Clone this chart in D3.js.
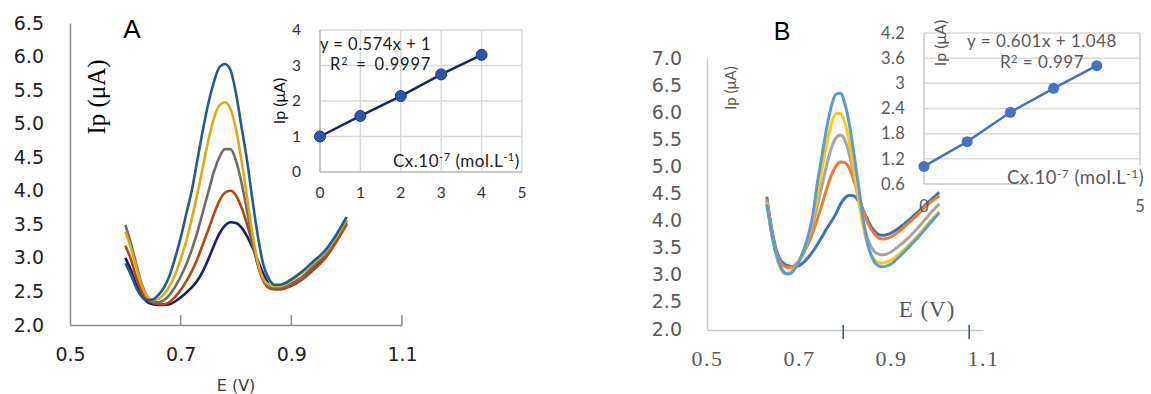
<!DOCTYPE html>
<html>
<head>
<meta charset="utf-8">
<script src="https://cdn.jsdelivr.net/npm/d3@7"></script>
<style>
  body { margin: 0; background: #fff; }
</style>
</head>
<body>
<svg id="chart" width="1151" height="394" font-family="DejaVu Sans"></svg>
<script>
// ---- panel A : DPV curves, 5 concentrations ----
const potA = [0.60, 0.61, 0.62, 0.63, 0.64, 0.65, 0.66, 0.67, 0.68, 0.69, 0.70, 0.71, 0.72, 0.73, 0.74, 0.75,
  0.76, 0.77, 0.78, 0.79, 0.80, 0.81, 0.82, 0.83, 0.84, 0.85, 0.86, 0.87, 0.88, 0.89, 0.90, 0.92, 0.94, 0.96, 0.98, 1.00];
const a1 = [3.00, 2.82, 2.60, 2.43, 2.34, 2.31, 2.30, 2.30, 2.31, 2.35, 2.41, 2.48, 2.56, 2.66, 2.80, 2.98,
  3.18, 3.36, 3.48, 3.53, 3.52, 3.45, 3.32, 3.15, 2.95, 2.75, 2.60, 2.55, 2.54, 2.56, 2.60, 2.70, 2.85, 3.00, 3.25, 3.52];
const a2 = [3.18, 2.98, 2.70, 2.50, 2.38, 2.33, 2.31, 2.31, 2.34, 2.42, 2.52, 2.65, 2.80, 2.98, 3.20, 3.42,
  3.65, 3.85, 3.97, 4.00, 3.93, 3.75, 3.50, 3.20, 2.88, 2.65, 2.55, 2.53, 2.53, 2.55, 2.58, 2.68, 2.82, 2.98, 3.22, 3.50];
const a3 = [3.49, 3.22, 2.90, 2.60, 2.42, 2.35, 2.34, 2.37, 2.45, 2.57, 2.72, 2.90, 3.12, 3.38, 3.68, 3.98,
  4.28, 4.50, 4.62, 4.62, 4.45, 4.12, 3.70, 3.25, 2.88, 2.66, 2.57, 2.55, 2.56, 2.58, 2.62, 2.72, 2.88, 3.03, 3.27, 3.55];
const a4 = [3.39, 3.15, 2.85, 2.58, 2.42, 2.37, 2.39, 2.46, 2.58, 2.75, 2.98, 3.25, 3.58, 3.95, 4.35, 4.75,
  5.08, 5.27, 5.32, 5.22, 4.92, 4.45, 3.90, 3.35, 2.92, 2.68, 2.60, 2.58, 2.58, 2.61, 2.66, 2.78, 2.93, 3.07, 3.30, 3.57];
const a5 = [2.92, 2.75, 2.55, 2.42, 2.37, 2.38, 2.45, 2.56, 2.74, 3.00, 3.30, 3.65, 4.00, 4.45, 4.90, 5.30,
  5.62, 5.84, 5.89, 5.80, 5.45, 4.95, 4.45, 3.85, 3.30, 2.88, 2.68, 2.60, 2.60, 2.63, 2.68, 2.80, 2.95, 3.10, 3.33, 3.61];
const curvesA = [a1, a2, a3, a4, a5];
const colorsA = ["#16206c", "#b5470f", "#6d6d6d", "#e3aa0c", "#1f5c97"];
const yTicksA = [2.0, 2.5, 3.0, 3.5, 4.0, 4.5, 5.0, 5.5, 6.0, 6.5];
const xTicksA = [0.5, 0.7, 0.9, 1.1];
const xMarksA = [0.7, 0.9, 1.1];

// inset A : calibration
const concA = [0, 1, 2, 3, 4];
const ipA = [1.00, 1.58, 2.14, 2.75, 3.30];

// ---- panel B ----
const potB = [0.63, 0.64, 0.65, 0.66, 0.67, 0.68, 0.69, 0.70, 0.71, 0.72, 0.73, 0.74, 0.75, 0.76, 0.77, 0.78,
  0.79, 0.80, 0.81, 0.82, 0.83, 0.84, 0.85, 0.86, 0.87, 0.88, 0.89, 0.90, 0.92, 0.94, 0.96, 0.98, 1.005];
const b1 = [4.44, 3.88, 3.48, 3.27, 3.19, 3.16, 3.15, 3.17, 3.23, 3.32, 3.43, 3.56, 3.70, 3.85, 3.98, 4.12,
  4.30, 4.42, 4.47, 4.45, 4.35, 4.18, 4.00, 3.85, 3.76, 3.73, 3.74, 3.77, 3.88, 4.02, 4.17, 4.33, 4.52];
const b2 = [4.40, 3.85, 3.45, 3.23, 3.15, 3.14, 3.17, 3.26, 3.40, 3.57, 3.78, 4.03, 4.30, 4.58, 4.83, 5.00,
  5.08, 5.07, 4.95, 4.72, 4.45, 4.18, 3.95, 3.80, 3.70, 3.66, 3.67, 3.70, 3.82, 3.97, 4.13, 4.30, 4.46];
const b3 = [4.36, 3.80, 3.38, 3.12, 3.02, 3.02, 3.10, 3.24, 3.42, 3.64, 3.92, 4.28, 4.65, 5.02, 5.33, 5.52,
  5.58, 5.48, 5.20, 4.80, 4.35, 3.95, 3.65, 3.47, 3.39, 3.37, 3.38, 3.42, 3.55, 3.70, 3.88, 4.08, 4.31];
const b4 = [4.33, 3.78, 3.38, 3.13, 3.03, 3.04, 3.12, 3.26, 3.45, 3.70, 4.02, 4.45, 4.95, 5.40, 5.78, 5.97,
  5.98, 5.80, 5.42, 4.92, 4.38, 3.88, 3.52, 3.32, 3.24, 3.22, 3.23, 3.27, 3.40, 3.56, 3.74, 3.94, 4.17];
const b5 = [4.30, 3.80, 3.40, 3.15, 3.03, 3.02, 3.10, 3.25, 3.45, 3.72, 4.10, 4.70, 5.20, 5.70, 6.10, 6.33,
  6.35, 6.15, 5.75, 5.20, 4.60, 4.00, 3.55, 3.30, 3.18, 3.15, 3.16, 3.20, 3.35, 3.52, 3.70, 3.90, 4.14];
const curvesB = [b1, b2, b3, b4, b5];
const colorsB = ["#3f6fc4", "#ee7d31", "#a5a5a5", "#ffc90e", "#5b9bd5"];
const yTicksB = [2.0, 2.5, 3.0, 3.5, 4.0, 4.5, 5.0, 5.5, 6.0, 6.5, 7.0];
const xTicksB = [0.5, 0.7, 0.9, 1.1];
const xMarksB = [0.796, 1.07];

// inset B : calibration
const concB = [0, 1, 2, 3, 4];
const ipB = [1.02, 1.61, 2.31, 2.88, 3.42];
const yTicksIB = [0.6, 1.2, 1.8, 2.4, 3, 3.6, 4.2];

const svg = d3.select("#chart");
svg.append("rect").attr("width", 1151).attr("height", 394).attr("fill", "#fff");

// superscript helper for the concentration label
function concLabel(t) {
  t.append("tspan").text("Cx.10");
  t.append("tspan").attr("dy", -6).attr("font-size", "0.65em").text("-7");
  t.append("tspan").attr("dy", 6).text(" (mol.L");
  t.append("tspan").attr("dy", -6).attr("font-size", "0.65em").text("-1");
  t.append("tspan").attr("dy", 6).text(")");
}
function r2Label(t, val) {
  t.append("tspan").text("R");
  t.append("tspan").attr("dy", -5).attr("font-size", "0.65em").text("2");
  t.append("tspan").attr("dy", 5).text(" = " + val);
}

// ================= panel A =================
const xA = d3.scaleLinear([0.5, 1.1], [70, 402]);
const yA = d3.scaleLinear([2, 6.5], [325, 23]);

const gA = svg.append("g");

gA.append("g")
  .attr("transform", "translate(70,0)")
  .call(d3.axisLeft(yA).tickValues(yTicksA).tickSize(0).tickPadding(26).tickFormat(d3.format(".1f")))
  .call(g => g.select(".domain").attr("stroke", "#8c8c8c").attr("stroke-width", 1.5))
  .call(g => g.selectAll("text").attr("font-size", 19).attr("fill", "#222").attr("font-family", "DejaVu Sans"));

gA.append("g")
  .attr("transform", "translate(0,325)")
  .call(d3.axisBottom(xA).tickValues(xTicksA).tickSize(0).tickPadding(23).tickFormat(d3.format(".1f")))
  .call(g => g.select(".domain").attr("stroke", "#8c8c8c").attr("stroke-width", 1.5))
  .call(g => g.selectAll("text").attr("font-size", 19).attr("fill", "#222").attr("font-family", "DejaVu Sans"));

gA.selectAll(".markA")
  .data(xMarksA)
  .join("line")
  .attr("x1", d => xA(d)).attr("x2", d => xA(d))
  .attr("y1", 325).attr("y2", 315)
  .attr("stroke", "#8c8c8c").attr("stroke-width", 1.5);

const lineA = d3.line().x((d, i) => xA(potA[i])).y(d => yA(d)).curve(d3.curveMonotoneX);
gA.selectAll(".curveA")
  .data(curvesA)
  .join("path")
  .attr("d", lineA)
  .attr("fill", "none")
  .attr("stroke", (d, i) => colorsA[i])
  .attr("stroke-width", 2.6)
  .attr("stroke-linejoin", "round");

gA.append("text").attr("x", 132).attr("y", 38).attr("text-anchor", "middle")
  .attr("font-family", "Liberation Sans").attr("font-size", 26).text("A");
gA.append("text").attr("transform", "translate(105,97) rotate(-90)").attr("text-anchor", "middle")
  .attr("font-family", "Liberation Serif").attr("font-size", 25).text("Ip (μA)");
gA.append("text").attr("x", 236).attr("y", 391).attr("text-anchor", "middle")
  .attr("font-size", 16).attr("fill", "#404040").text("E (V)");

// inset A
const xIA = d3.scaleLinear([0, 5], [320, 522]);
const yIA = d3.scaleLinear([0, 4], [172, 30]);
const gIA = svg.append("g").attr("font-family", "Lato");

gIA.selectAll(".vgrid").data([0, 1, 2, 3, 4, 5]).join("line")
  .attr("x1", d => xIA(d)).attr("x2", d => xIA(d)).attr("y1", 30).attr("y2", 172)
  .attr("stroke", "#d9d9d9").attr("stroke-width", 1.5);
gIA.selectAll(".hgrid").data([0, 1, 2, 3, 4]).join("line")
  .attr("x1", 320).attr("x2", 522).attr("y1", d => yIA(d)).attr("y2", d => yIA(d))
  .attr("stroke", "#d9d9d9").attr("stroke-width", 1.5);
gIA.append("line").attr("x1", 320).attr("x2", 320).attr("y1", 30).attr("y2", 172)
  .attr("stroke", "#bfbfbf").attr("stroke-width", 1.5);
gIA.append("line").attr("x1", 320).attr("x2", 522).attr("y1", 172).attr("y2", 172)
  .attr("stroke", "#bfbfbf").attr("stroke-width", 1.5);

gIA.selectAll(".ytA").data([0, 1, 2, 3, 4]).join("text")
  .attr("x", 301).attr("y", d => yIA(d)).attr("dy", "0.35em").attr("text-anchor", "end")
  .attr("font-size", 15.5).attr("fill", "#333").text(d => d);
gIA.selectAll(".xtA").data([0, 1, 2, 3, 4, 5]).join("text")
  .attr("x", d => xIA(d)).attr("y", 198).attr("text-anchor", "middle")
  .attr("font-size", 15.5).attr("fill", "#333").text(d => d);

gIA.append("path")
  .datum(ipA)
  .attr("d", d3.line().x((d, i) => xIA(concA[i])).y(d => yIA(d)))
  .attr("fill", "none").attr("stroke", "#16236e").attr("stroke-width", 2.5);
gIA.selectAll(".ptA").data(ipA).join("circle")
  .attr("cx", (d, i) => xIA(concA[i])).attr("cy", d => yIA(d)).attr("r", 5.5)
  .attr("fill", "#2d56a8").attr("stroke", "#1b3a80").attr("stroke-width", 1);

gIA.append("text").attr("transform", "translate(285,101) rotate(-90)").attr("text-anchor", "middle")
  .attr("font-size", 16).attr("fill", "#111").text("Ip (μA)");
gIA.append("text").attr("x", 320).attr("y", 50)
  .attr("font-size", 16.5).attr("letter-spacing", 0.5).attr("fill", "#222").text("y = 0.574x + 1");
gIA.append("text").attr("x", 330).attr("y", 70)
  .attr("font-size", 16.5).attr("letter-spacing", 0.8).attr("word-spacing", 3).attr("fill", "#222")
  .call(r2Label, "0.9997");
gIA.append("text").attr("x", 393).attr("y", 167)
  .attr("font-size", 17).attr("letter-spacing", 0.5).attr("fill", "#222")
  .call(concLabel);

// ================= panel B =================
const xB = d3.scaleLinear([0.5, 1.1], [707, 983]);
const yB = d3.scaleLinear([2, 7], [329, 58]);
const gB = svg.append("g");

gB.append("g")
  .attr("transform", "translate(707,0)")
  .call(d3.axisLeft(yB).tickValues(yTicksB).tickSize(0).tickPadding(25).tickFormat(d3.format(".1f")))
  .call(g => g.select(".domain").attr("stroke", "#c8c8c8").attr("stroke-width", 1.5))
  .call(g => g.selectAll("text").attr("font-size", 19).attr("fill", "#595959").attr("font-family", "DejaVu Sans"));

gB.append("g")
  .attr("transform", "translate(0,330)")
  .call(d3.axisBottom(xB).tickValues(xTicksB).tickSize(0).tickPadding(20).tickFormat(d3.format(".1f")))
  .call(g => g.select(".domain").attr("stroke", "#c8c8c8").attr("stroke-width", 1.5))
  .call(g => g.selectAll("text").attr("font-size", 22).attr("fill", "#595959")
    .attr("font-family", "Liberation Serif").attr("letter-spacing", 1.5));

gB.selectAll(".markB")
  .data(xMarksB)
  .join("line")
  .attr("x1", d => xB(d)).attr("x2", d => xB(d))
  .attr("y1", 325).attr("y2", 339)
  .attr("stroke", "#2f4f8f").attr("stroke-width", 1.5);

const lineB = d3.line().x((d, i) => xB(potB[i])).y(d => yB(d)).curve(d3.curveMonotoneX);
gB.selectAll(".curveB")
  .data(curvesB)
  .join("path")
  .attr("d", lineB)
  .attr("fill", "none")
  .attr("stroke", (d, i) => colorsB[i])
  .attr("stroke-width", 3)
  .attr("stroke-linejoin", "round");

gB.append("text").attr("x", 782).attr("y", 40).attr("text-anchor", "middle")
  .attr("font-family", "Liberation Sans").attr("font-size", 25).text("B");
gB.append("text").attr("transform", "translate(736,88) rotate(-90)").attr("text-anchor", "middle")
  .attr("font-family", "Lato").attr("font-size", 15).attr("fill", "#595959").text("Ip (μA)");
gB.append("text").attr("x", 927).attr("y", 317).attr("text-anchor", "middle")
  .attr("font-family", "Liberation Serif").attr("font-size", 23).attr("letter-spacing", 1)
  .attr("fill", "#595959").text("E (V)");

// inset B
const xIB = d3.scaleLinear([0, 5], [924, 1140]);
const yIB = d3.scaleLinear([0.6, 4.2], [184, 33]);
const gIB = svg.append("g").attr("font-family", "Lato");

gIB.selectAll(".hgridB").data(yTicksIB.slice(1)).join("line")
  .attr("x1", 924).attr("x2", 1140).attr("y1", d => yIB(d)).attr("y2", d => yIB(d))
  .attr("stroke", "#d9d9d9").attr("stroke-width", 1.5);
gIB.append("line").attr("x1", 924).attr("x2", 924).attr("y1", 33).attr("y2", 184)
  .attr("stroke", "#c8c8c8").attr("stroke-width", 1.5);
gIB.append("line").attr("x1", 924).attr("x2", 1028).attr("y1", 184).attr("y2", 184)
  .attr("stroke", "#c8c8c8").attr("stroke-width", 1.5);
gIB.append("line").attr("x1", 1140).attr("x2", 1140).attr("y1", 33).attr("y2", 165)
  .attr("stroke", "#c8c8c8").attr("stroke-width", 1.5);

gIB.selectAll(".ytB").data(yTicksIB).join("text")
  .attr("x", 905).attr("y", d => yIB(d)).attr("dy", "0.35em").attr("text-anchor", "end")
  .attr("font-size", 16.5).attr("letter-spacing", 0.3).attr("fill", "#595959").text(d => d);
gIB.selectAll(".xtB").data([0, 5]).join("text")
  .attr("x", d => xIB(d)).attr("y", 212).attr("text-anchor", "middle")
  .attr("font-size", 16.5).attr("fill", "#595959").text(d => d);

gIB.append("path")
  .datum(ipB)
  .attr("d", d3.line().x((d, i) => xIB(concB[i])).y(d => yIB(d)))
  .attr("fill", "none").attr("stroke", "#4472c4").attr("stroke-width", 2.5);
gIB.selectAll(".ptB").data(ipB).join("circle")
  .attr("cx", (d, i) => xIB(concB[i])).attr("cy", d => yIB(d)).attr("r", 5.5)
  .attr("fill", "#4472c4");

gIB.append("text").attr("transform", "translate(946,43) rotate(-90)").attr("text-anchor", "middle")
  .attr("font-size", 16).attr("fill", "#595959").text("Ip (μA)");
gIB.append("text").attr("x", 1042).attr("y", 47).attr("text-anchor", "middle")
  .attr("font-size", 17).attr("letter-spacing", 0.5).attr("fill", "#595959").text("y = 0.601x + 1.048");
gIB.append("text").attr("x", 1042).attr("y", 68).attr("text-anchor", "middle")
  .attr("font-size", 17).attr("letter-spacing", 0.5).attr("fill", "#595959")
  .call(r2Label, "0.997");
gIB.append("text").attr("x", 1007).attr("y", 184)
  .attr("font-size", 18.5).attr("letter-spacing", 0.5).attr("fill", "#595959")
  .call(concLabel);
</script>
</body>
</html>
